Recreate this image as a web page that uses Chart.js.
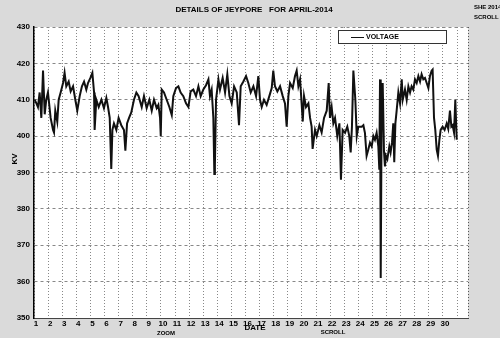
<!DOCTYPE html>
<html>
<head>
<meta charset="utf-8">
<script src="https://cdn.jsdelivr.net/npm/chart.js@4"></script>
<style>
  html, body { margin: 0; padding: 0; background: #dadada; }
</style>
</head>
<body>
<canvas id="voltChart" width="500" height="338"></canvas>
<script>
// Jeypore bus voltage, April 2014 (day of month as fractional days, kV)
const readingDays = [
  1.05, 1.17, 1.28, 1.40, 1.52, 1.64, 1.76, 1.87, 1.99,
  2.18, 2.35, 2.42, 2.51, 2.65, 2.75, 2.89,
  3.06, 3.17, 3.29, 3.46, 3.60, 3.77, 3.93,
  4.07, 4.24, 4.40, 4.55, 4.71, 4.83,
  5.00, 5.14, 5.26, 5.30, 5.42, 5.59, 5.78, 5.96,
  6.13, 6.25, 6.37, 6.48, 6.56, 6.67, 6.84,
  7.00, 7.19, 7.38, 7.48, 7.60, 7.74, 7.90,
  8.09, 8.26, 8.42, 8.64, 8.80, 8.99,
  9.18, 9.35, 9.51, 9.70, 9.82, 9.94, 9.99,
  10.06, 10.22, 10.41, 10.60, 10.77, 10.88,
  11.07, 11.24, 11.40, 11.59, 11.78, 11.95,
  12.11, 12.30, 12.49, 12.66, 12.82,
  13.01, 13.20, 13.37, 13.48, 13.60, 13.72, 13.79, 13.83, 13.91,
  14.08, 14.19, 14.38, 14.55, 14.71, 14.86,
  15.02, 15.19, 15.38, 15.54, 15.66, 15.85,
  16.04, 16.20, 16.37, 16.56, 16.75, 16.91,
  17.03, 17.15, 17.31, 17.50, 17.69, 17.86, 17.97,
  18.09, 18.26, 18.45, 18.64, 18.80, 18.92,
  19.04, 19.16, 19.35, 19.51, 19.63, 19.75, 19.87, 19.98,
  20.06, 20.15, 20.29, 20.46, 20.58, 20.69, 20.76, 20.93,
  21.05, 21.24, 21.40, 21.57, 21.76, 21.90, 21.99,
  22.11, 22.23, 22.35, 22.51, 22.66, 22.77, 22.89,
  23.06, 23.22, 23.36, 23.46, 23.55, 23.65, 23.79, 23.89,
  24.00, 24.24, 24.36, 24.47, 24.59, 24.71, 24.83, 24.95,
  25.07, 25.18, 25.30, 25.42, 25.49, 25.54, 25.59, 25.66, 25.73, 25.82, 25.89, 25.96,
  26.06, 26.20, 26.29, 26.39, 26.48, 26.55, 26.63, 26.72, 26.84, 26.96,
  27.08, 27.15, 27.31, 27.43, 27.55, 27.67, 27.78, 27.90,
  28.02, 28.14, 28.26, 28.38, 28.49, 28.61, 28.73, 28.85, 28.97,
  29.08, 29.20, 29.27, 29.37, 29.46, 29.56, 29.65, 29.75, 29.84, 29.98,
  30.12, 30.27, 30.38, 30.50, 30.60, 30.69, 30.79, 30.88, 30.98
];
const readingKv = [
  410, 409, 408, 412, 405, 418, 406, 410, 412,
  405, 401.7, 401, 407, 404, 410, 412,
  414.6, 417.4, 413.7, 415, 412.3, 413.7, 410,
  407, 411, 413.7, 415, 412.8, 414.6,
  416, 417.4, 412, 401.7, 410, 408, 410, 407.7,
  410.5, 408, 405, 391, 401.7, 403.5, 401.7,
  405, 403, 401.7, 396, 403.5, 405, 406.5,
  410, 412, 411, 408, 411, 407.7,
  410, 407, 410, 407.7, 408.6, 405, 400,
  412.8, 412, 410, 408, 405.8, 411,
  413.2, 413.7, 412, 411, 409, 408,
  412.3, 412.8, 411, 413.7, 411,
  412.8, 414, 415.6, 411, 412.8, 405, 389.6, 392, 410,
  415.6, 412.8, 416, 412, 417, 411,
  409, 413.7, 412, 403, 413.7, 415,
  416.5, 414.6, 412, 413.7, 411, 416.5,
  410, 408, 410, 408.6, 411, 413.2, 418,
  413.7, 412.3, 413.7, 411, 409, 402.6,
  411, 414.6, 413.2, 416.5, 418, 413.7, 415.6, 409,
  404, 411, 408, 409, 405, 402.6, 396.5, 401.7,
  400, 403, 401, 405, 407, 414.6, 405,
  408, 403.5, 405, 400, 403.5, 388, 401.7,
  400.9, 402.6, 400, 395.5, 402.6, 418, 410, 400,
  402.6, 402.6, 403, 400.9, 394.6, 396.3, 398.2, 397.2,
  400, 399, 400.9, 397.2, 390.8, 415.6, 361, 410, 414.6, 396, 391.7, 394.6,
  393.7, 397.2, 395.5, 398.2, 403.5, 392.8, 403.5, 407, 412, 409,
  415.6, 410, 412.8, 410, 413.7, 412, 413.7, 412.8,
  415.6, 414.6, 416.5, 415, 417, 415.6, 416, 414.6, 413.2,
  416.5, 418, 418.3, 405, 401.7, 396.3, 394.6, 399, 401.7, 402.6,
  401.7, 403.5, 402, 407, 402.6, 403, 401, 410, 399
];

const dayTicks = [1, 2, 3, 4, 5, 6, 7, 8, 9, 10, 11, 12, 13, 14, 15, 16,
  17, 18, 19, 20, 21, 22, 23, 24, 25, 26, 27, 28, 29, 30, 31];
const dayLabels = ['1', '2', '3', '4', '5', '6', '7', '8', '9', '10', '11', '12', '13', '14', '15', '16',
  '17', '18', '19', '20', '21', '22', '23', '24', '25', '26', '27', '28', '29', '30', ''];
const kvTicks = [350, 360, 370, 380, 390, 400, 410, 420, 430];

const FONT = '"Liberation Sans", Arial, sans-serif';

// grey sheet behind, white plot, plus the loose captions around the frame
const sheetPlugin = {
  id: 'sheet',
  beforeDraw(chart) {
    const { ctx, chartArea: a } = chart;
    ctx.save();
    ctx.fillStyle = '#dadada';
    ctx.fillRect(0, 0, chart.width, chart.height);
    ctx.fillStyle = '#ffffff';
    ctx.fillRect(a.left, a.top, a.right - a.left, a.bottom - a.top);
    ctx.restore();
  },
  afterDraw(chart) {
    const { ctx, chartArea: a } = chart;
    ctx.save();

    ctx.strokeStyle = '#555';
    ctx.lineWidth = 1;
    ctx.setLineDash([1, 2]);
    ctx.beginPath();
    ctx.moveTo(a.right + 0.5, a.top);
    ctx.lineTo(a.right + 0.5, a.bottom);
    ctx.stroke();
    ctx.setLineDash([]);

    // legend box
    const ds = chart.data.datasets[0];
    ctx.fillStyle = '#fff';
    ctx.fillRect(338, 30, 108, 13);
    ctx.strokeStyle = '#333';
    ctx.strokeRect(338.5, 30.5, 108, 13);
    ctx.strokeStyle = ds.borderColor;
    ctx.lineWidth = 1;
    ctx.beginPath();
    ctx.moveTo(351, 37.5);
    ctx.lineTo(364, 37.5);
    ctx.stroke();
    ctx.fillStyle = '#000';
    ctx.font = 'bold 7px ' + FONT;
    ctx.textAlign = 'left';
    ctx.textBaseline = 'middle';
    ctx.fillText(ds.label, 366, 37.5);

    ctx.textAlign = 'center';
    ctx.font = 'bold 8px ' + FONT;
    ctx.fillText('DETAILS OF JEYPORE   FOR APRIL-2014', 254, 10);
    ctx.fillText('DATE', 255, 328);

    ctx.font = 'bold 6px ' + FONT;
    ctx.fillText('ZOOM', 166, 333);
    ctx.fillText('SCROLL', 333, 332);
    ctx.textAlign = 'left';
    ctx.fillText('SHE 2014', 474, 7);
    ctx.fillText('SCROLL', 474, 17);

    ctx.translate(15, 159);
    ctx.rotate(-Math.PI / 2);
    ctx.textAlign = 'center';
    ctx.font = 'bold 8px ' + FONT;
    ctx.fillText('KV', 0, 0);
    ctx.restore();
  }
};

new Chart(document.getElementById('voltChart'), {
  type: 'line',
  data: {
    datasets: [{
      label: 'VOLTAGE',
      data: readingDays.map((d, i) => ({ x: d, y: readingKv[i] })),
      borderColor: '#111',
      borderWidth: 2,
      pointRadius: 0,
      tension: 0
    }]
  },
  options: {
    responsive: false,
    animation: false,
    layout: { padding: { left: 0, right: 32, top: 27, bottom: 0 } },
    plugins: {
      legend: { display: false },
      tooltip: { enabled: false }
    },
    scales: {
      x: {
        type: 'linear',
        min: 1,
        max: 31.78,
        afterBuildTicks: scale => { scale.ticks = dayTicks.map(v => ({ value: v })); },
        afterFit: scale => { scale.height = 20; },
        ticks: {
          autoSkip: false,
          maxRotation: 0,
          padding: 1,
          labelOffset: 2,
          color: '#000',
          font: { family: FONT, size: 8, weight: 'bold' },
          callback: (v, i) => dayLabels[i]
        },
        grid: { color: '#888', drawTicks: false },
        border: { display: true, color: '#444', dash: [1, 2] }
      },
      y: {
        min: 350,
        max: 430,
        afterBuildTicks: scale => { scale.ticks = kvTicks.map(v => ({ value: v })); },
        afterFit: scale => { scale.width = 34; },
        ticks: {
          padding: 4,
          color: '#000',
          font: { family: FONT, size: 8, weight: 'bold' }
        },
        grid: { color: '#888', drawTicks: false },
        border: { display: true, color: '#000', width: 1.5, dash: [3, 3] }
      }
    }
  },
  plugins: [sheetPlugin]
});
</script>
</body>
</html>
